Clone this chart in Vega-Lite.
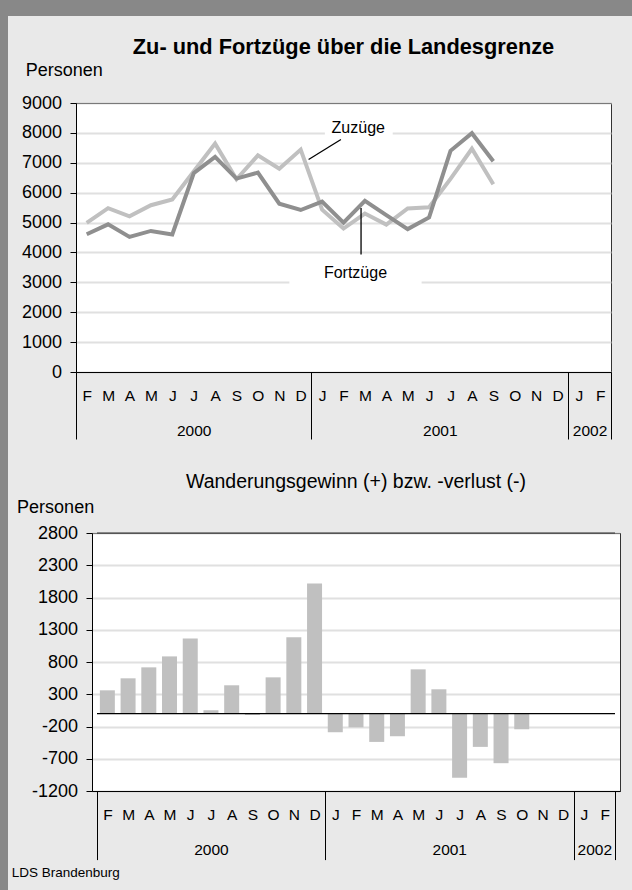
{
  "$schema": "https://vega.github.io/schema/vega-lite/v6.json",
  "background": "#e9e9e9",
  "padding": 0,
  "spacing": 0,
  "config": {
    "font": "Liberation Sans",
    "view": {"stroke": null},
    "axis": {"labelColor": "#000", "titleColor": "#000", "domainColor": "#000", "tickColor": "#000", "labelFont": "Liberation Sans", "titleFont": "Liberation Sans"},
    "title": {"color": "#000", "font": "Liberation Sans"}
  },
  "datasets": {
    "monate": [
      {"t": 0, "monat": "2000-02", "zuzuege": 4990, "fortzuege": 4610, "saldo": 361},
      {"t": 1, "monat": "2000-03", "zuzuege": 5480, "fortzuege": 4940, "saldo": 547},
      {"t": 2, "monat": "2000-04", "zuzuege": 5210, "fortzuege": 4520, "saldo": 717},
      {"t": 3, "monat": "2000-05", "zuzuege": 5580, "fortzuege": 4720, "saldo": 887},
      {"t": 4, "monat": "2000-06", "zuzuege": 5770, "fortzuege": 4600, "saldo": 1166},
      {"t": 5, "monat": "2000-07", "zuzuege": 6710, "fortzuege": 6650, "saldo": 52},
      {"t": 6, "monat": "2000-08", "zuzuege": 7640, "fortzuege": 7200, "saldo": 439},
      {"t": 7, "monat": "2000-09", "zuzuege": 6450, "fortzuege": 6470, "saldo": -21},
      {"t": 8, "monat": "2000-10", "zuzuege": 7250, "fortzuege": 6670, "saldo": 562},
      {"t": 9, "monat": "2000-11", "zuzuege": 6800, "fortzuege": 5630, "saldo": 1182},
      {"t": 10, "monat": "2000-12", "zuzuege": 7440, "fortzuege": 5420, "saldo": 2018},
      {"t": 11, "monat": "2001-01", "zuzuege": 5430, "fortzuege": 5700, "saldo": -289},
      {"t": 12, "monat": "2001-02", "zuzuege": 4800, "fortzuege": 5000, "saldo": -212},
      {"t": 13, "monat": "2001-03", "zuzuege": 5300, "fortzuege": 5730, "saldo": -439},
      {"t": 14, "monat": "2001-04", "zuzuege": 4930, "fortzuege": 5250, "saldo": -351},
      {"t": 15, "monat": "2001-05", "zuzuege": 5470, "fortzuege": 4780, "saldo": 686},
      {"t": 16, "monat": "2001-06", "zuzuege": 5510, "fortzuege": 5170, "saldo": 377},
      {"t": 17, "monat": "2001-07", "zuzuege": 6460, "fortzuege": 7400, "saldo": -996},
      {"t": 18, "monat": "2001-08", "zuzuege": 7470, "fortzuege": 7990, "saldo": -516},
      {"t": 19, "monat": "2001-09", "zuzuege": 6280, "fortzuege": 7050, "saldo": -769},
      {"t": 20, "monat": "2001-10", "zuzuege": null, "fortzuege": null, "saldo": -243}
    ],
    "leer": [{}]
  },
  "vconcat": [
    {"width": 632, "height": 16, "view": {"fill": "#888888", "stroke": null}, "data": {"values": []}, "mark": "point"},
    {
      "spacing": 0,
      "hconcat": [
        {"width": 8, "height": 874, "view": {"fill": "#888888", "stroke": null}, "data": {"values": []}, "mark": "point"},
        {
          "spacing": 0,
          "vconcat": [
            {"width": 1, "height": 20, "data": {"values": []}, "mark": "point"},
            {
              "spacing": 0,
              "hconcat": [
                {"width": 12, "height": 1, "data": {"values": []}, "mark": "point"},
                {
                  "width": 535,
                  "height": 269,
                  "view": {"fill": "white", "stroke": "#333333"},
                  "title": {"text": "Zu- und Fortzüge über die Landesgrenze", "fontSize": 21.8, "fontWeight": "bold", "frame": "group", "anchor": "middle", "offset": 3},
                  "data": {"name": "monate"},
                  "resolve": {"axis": {"x": "independent", "y": "independent"}},
                  "layer": [
                    {
                      "data": {"name": "leer"},
                      "mark": {"type": "rect", "color": "white"},
                      "encoding": {
                        "x": {"datum": 11.13, "type": "quantitative", "scale": {"domain": [-0.5, 24.5], "nice": false, "zero": false},
                          "axis": {"orient": "bottom", "values": [-0.5, 10.5, 22.5, 24.5], "labels": false, "domain": false, "grid": false, "ticks": true, "tickSize": 67, "tickWidth": 1, "tickColor": "#000", "title": null}},
                        "x2": {"datum": 14.3},
                        "y": {"datum": 8390, "type": "quantitative", "scale": {"domain": [0, 9000], "nice": false}, "axis": null},
                        "y2": {"datum": 7720}
                      }
                    },
                    {
                      "data": {"name": "leer"},
                      "mark": {"type": "rect", "color": "white"},
                      "encoding": {
                        "x": {"datum": 9.47, "type": "quantitative", "scale": {"domain": [-0.5, 24.5], "nice": false, "zero": false}, "axis": null},
                        "x2": {"datum": 15.65},
                        "y": {"datum": 3780, "type": "quantitative", "scale": {"domain": [0, 9000], "nice": false}, "axis": null},
                        "y2": {"datum": 2710}
                      }
                    },
                    {
                      "mark": {"type": "line", "color": "#c0c0c0", "strokeWidth": 4},
                      "encoding": {
                        "x": {"field": "t", "type": "quantitative", "scale": {"domain": [-0.5, 24.5], "nice": false, "zero": false},
                          "axis": {"orient": "bottom", "values": [0,1,2,3,4,5,6,7,8,9,10,11,12,13,14,15,16,17,18,19,20,21,22,23,24], "ticks": false, "domain": true, "domainColor": "#000", "grid": false,
                            "labelExpr": "['F','M','A','M','J','J','A','S','O','N','D','J','F','M','A','M','J','J','A','S','O','N','D','J','F'][datum.value]",
                            "labelFontSize": 15.5, "labelBaseline": "alphabetic", "labelPadding": 28, "labelFlush": false, "labelOverlap": false, "title": null}},
                        "y": {"field": "zuzuege", "type": "quantitative", "scale": {"domain": [0, 9000], "nice": false},
                          "axis": {"orient": "left", "values": [0,1000,2000,3000,4000,5000,6000,7000,8000,9000], "labelExpr": "'' + datum.value", "title": "Personen", "titleAngle": 0, "titleAlign": "left", "titleBaseline": "alphabetic", "titleX": -50.7, "titleY": -27.7, "titleFontSize": 18, "titleFontWeight": "normal",
                            "labelFontSize": 18, "labelPadding": 8.5, "tickSize": 6, "grid": true, "gridColor": "#c0c0c0", "gridDash": [1, 1], "gridWidth": 2, "domainColor": "#000"}}
                      }
                    },
                    {
                      "mark": {"type": "line", "color": "#8f8f8f", "strokeWidth": 4},
                      "encoding": {
                        "x": {"field": "t", "type": "quantitative", "scale": {"domain": [-0.5, 24.5], "nice": false, "zero": false}, "axis": null},
                        "y": {"field": "fortzuege", "type": "quantitative", "scale": {"domain": [0, 9000], "nice": false}, "axis": null}
                      }
                    },
                    {
                      "data": {"name": "leer"},
                      "mark": {"type": "rule", "color": "#000", "strokeWidth": 1.3},
                      "encoding": {
                        "x": {"datum": 11.88, "type": "quantitative", "scale": {"domain": [-0.5, 24.5], "nice": false, "zero": false},
                          "axis": {"orient": "bottom", "values": [5, 16.5, 23.5], "ticks": false, "domain": false, "grid": false,
                            "labelExpr": "datum.value < 10 ? '2000' : datum.value < 20 ? '2001' : '2002'",
                            "labelFontSize": 15.5, "labelBaseline": "alphabetic", "labelPadding": 63, "labelFlush": false, "labelOverlap": false, "title": null}},
                        "x2": {"datum": 10.37},
                        "y": {"datum": 7777, "type": "quantitative", "scale": {"domain": [0, 9000], "nice": false}, "axis": null},
                        "y2": {"datum": 7109}
                      }
                    },
                    {
                      "data": {"name": "leer"},
                      "mark": {"type": "rule", "color": "#000", "strokeWidth": 1.3},
                      "encoding": {
                        "x": {"datum": 12.82, "type": "quantitative", "scale": {"domain": [-0.5, 24.5], "nice": false, "zero": false}, "axis": null},
                        "y": {"datum": 5491, "type": "quantitative", "scale": {"domain": [0, 9000], "nice": false}, "axis": null},
                        "y2": {"datum": 3934}
                      }
                    },
                    {
                      "data": {"name": "leer"},
                      "mark": {"type": "text", "text": "Zuzüge", "fontSize": 16, "align": "center", "baseline": "alphabetic", "color": "#000"},
                      "encoding": {
                        "x": {"datum": 12.69, "type": "quantitative", "scale": {"domain": [-0.5, 24.5], "nice": false, "zero": false}, "axis": null},
                        "y": {"datum": 7980, "type": "quantitative", "scale": {"domain": [0, 9000], "nice": false}, "axis": null}
                      }
                    },
                    {
                      "data": {"name": "leer"},
                      "mark": {"type": "text", "text": "Fortzüge", "fontSize": 16, "align": "center", "baseline": "alphabetic", "color": "#000"},
                      "encoding": {
                        "x": {"datum": 12.56, "type": "quantitative", "scale": {"domain": [-0.5, 24.5], "nice": false, "zero": false}, "axis": null},
                        "y": {"datum": 3152, "type": "quantitative", "scale": {"domain": [0, 9000], "nice": false}, "axis": null}
                      }
                    }
                  ]
                }
              ]
            },
            {"width": 1, "height": 31, "data": {"values": []}, "mark": "point"},
            {
              "spacing": 0,
              "hconcat": [
                {"width": 2, "height": 1, "data": {"values": []}, "mark": "point"},
                {
                  "width": 528,
                  "height": 258,
                  "view": {"fill": "white", "stroke": "#333333"},
                  "title": {"text": "Wanderungsgewinn (+) bzw. -verlust (-)", "fontSize": 19.5, "fontWeight": "normal", "frame": "group", "anchor": "middle", "offset": 5.5},
                  "data": {"name": "monate"},
                  "resolve": {"axis": {"x": "independent", "y": "independent"}},
                  "layer": [
                    {
                      "mark": {"type": "bar", "color": "#c0c0c0", "width": 15},
                      "encoding": {
                        "x": {"field": "t", "type": "quantitative", "scale": {"domain": [-0.5, 24.5], "nice": false, "zero": false},
                          "axis": {"orient": "bottom", "values": [0,1,2,3,4,5,6,7,8,9,10,11,12,13,14,15,16,17,18,19,20,21,22,23,24], "ticks": false, "domain": true, "domainColor": "#000", "grid": false,
                            "labelExpr": "['F','M','A','M','J','J','A','S','O','N','D','J','F','M','A','M','J','J','A','S','O','N','D','J','F'][datum.value]",
                            "labelFontSize": 15.5, "labelBaseline": "alphabetic", "labelPadding": 28.3, "labelFlush": false, "labelOverlap": false, "title": null}},
                        "y": {"field": "saldo", "type": "quantitative", "scale": {"domain": [-1200, 2800], "nice": false, "zero": false},
                          "axis": {"orient": "left", "values": [-1200,-700,-200,300,800,1300,1800,2300,2800], "labelExpr": "'' + datum.value", "title": "Personen", "titleAngle": 0, "titleAlign": "left", "titleBaseline": "alphabetic", "titleX": -75.4, "titleY": -20.6, "titleFontSize": 18, "titleFontWeight": "normal",
                            "labelFontSize": 18, "labelPadding": 8.5, "tickSize": 6, "grid": true, "gridColor": "#c0c0c0", "gridDash": [1, 1], "gridWidth": 2, "domainColor": "#000"}}
                      }
                    },
                    {
                      "data": {"name": "leer"},
                      "mark": {"type": "rule", "color": "#000", "strokeWidth": 1.2},
                      "encoding": {
                        "x": {"datum": -0.5, "type": "quantitative", "scale": {"domain": [-0.5, 24.5], "nice": false, "zero": false},
                          "axis": {"orient": "bottom", "values": [5, 16.5, 23.5], "ticks": false, "domain": false, "grid": false,
                            "labelExpr": "datum.value < 10 ? '2000' : datum.value < 20 ? '2001' : '2002'",
                            "labelFontSize": 15.5, "labelBaseline": "alphabetic", "labelPadding": 63.3, "labelFlush": false, "labelOverlap": false, "title": null}},
                        "x2": {"datum": 24.5},
                        "y": {"datum": 0, "type": "quantitative", "scale": {"domain": [-1200, 2800], "nice": false, "zero": false}, "axis": null}
                      }
                    },
                    {
                      "data": {"name": "leer"},
                      "mark": {"type": "rule", "color": "#333333", "strokeWidth": 1},
                      "encoding": {
                        "x": {"datum": -0.5, "type": "quantitative", "scale": {"domain": [-0.5, 24.5], "nice": false, "zero": false},
                          "axis": {"orient": "bottom", "values": [-0.5, 10.5, 22.5, 24.5], "labels": false, "domain": false, "grid": false, "ticks": true, "tickSize": 68.6, "tickWidth": 1, "tickColor": "#000",
                            "title": "LDS Brandenburg", "titleFontSize": 13.5, "titleFontWeight": "normal", "titleAlign": "left", "titleBaseline": "alphabetic", "titleX": -80.7, "titleY": 85.3, "titleAngle": 0}},
                        "x2": {"datum": 24.5},
                        "y": {"datum": 2800, "type": "quantitative", "scale": {"domain": [-1200, 2800], "nice": false, "zero": false}, "axis": null}
                      }
                    }
                  ]
                }
              ]
            }
          ]
        }
      ]
    }
  ]
}
